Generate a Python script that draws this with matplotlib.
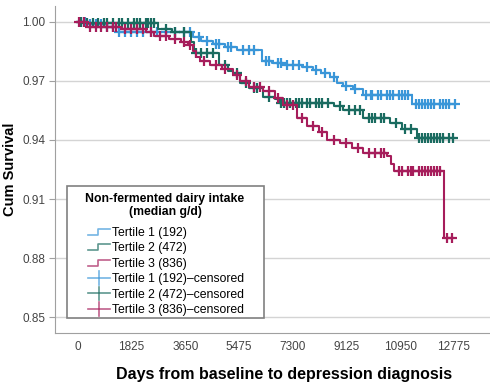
import numpy as np
import matplotlib
matplotlib.use("Agg")
from matplotlib import pyplot as plt
from matplotlib.lines import Line2D
from matplotlib.patches import Rectangle
from matplotlib.legend_handler import HandlerBase

plt.rcParams['font.family'] = ['Liberation Sans', 'DejaVu Sans']

# step curves: event times (days) and cumulative survival after each step
t1_times = [0, 400, 900, 1400, 3900, 4200, 4600, 5000, 5400, 6256, 6600, 7000,
            7600, 8000, 8250, 8550, 8800, 9000, 9350, 9690, 11356, 12800]
t1_surv = [1.0, 0.9990, 0.9975, 0.9949, 0.9925, 0.9905, 0.9885, 0.9870, 0.9858,
           0.9800, 0.9790, 0.9780, 0.9768, 0.9755, 0.9740, 0.9720, 0.9690, 0.9675,
           0.9660, 0.9629, 0.9583, 0.9583]

t2_times = [0, 300, 2720, 3200, 3850, 3950, 4800, 5100, 5270, 5500, 5800, 6300,
            6700, 6868, 8700, 9000, 9700, 10600, 11000, 11526, 12800]
t2_surv = [1.0, 0.9995, 0.9962, 0.9950, 0.9900, 0.9843, 0.9781, 0.9750, 0.9741,
           0.9690, 0.9665, 0.9620, 0.9610, 0.9588, 0.9570, 0.9553, 0.9512, 0.9487,
           0.9455, 0.9410, 0.9410]

t3_times = [0, 300, 1500, 2300, 2600, 3100, 3500, 3750, 3900, 4000, 4150, 4500,
            4900, 5270, 5500, 5800, 6300, 6700, 6970, 7450, 7800, 8200, 8466,
            8900, 9300, 9690, 10500, 10650, 10750, 12450, 12760]
t3_surv = [1.0, 0.9975, 0.9965, 0.9950, 0.9930, 0.9915, 0.9895, 0.9880, 0.9850,
           0.9820, 0.9800, 0.9780, 0.9760, 0.9730, 0.9700, 0.9670, 0.9650, 0.9615,
           0.9580, 0.9510, 0.9470, 0.9440, 0.9400, 0.9385, 0.9360, 0.9335, 0.9320,
           0.9280, 0.9243, 0.8902, 0.8902]

# censoring times (days)
t1_cens = [100, 250, 400, 600, 800, 1000, 1200, 1400, 1600, 1800, 2000, 2200,
           2500, 2700, 3000, 3300, 3600, 3800, 4100, 4400, 4700, 4800, 5100, 5200,
           5600, 5800, 6000, 6400, 6500, 6800, 6900, 7100, 7300, 7500, 7800, 8100,
           8400, 8700, 9100, 9400, 9800, 9950, 10000, 10200, 10300, 10500, 10600,
           10700, 10900, 11000, 11100, 11200, 11500, 11600, 11700, 11800, 11900,
           12000, 12100, 12300, 12400, 12500, 12600, 12800]
t2_cens = [100, 300, 500, 700, 900, 1000, 1200, 1400, 1500, 1700, 1900, 2000,
           2100, 2300, 2400, 2500, 2600, 3000, 3300, 3600, 4000, 4200, 4400, 4600,
           5000, 5400, 5700, 6000, 6100, 6500, 6900, 7000, 7100, 7200, 7400, 7500,
           7600, 7800, 7900, 8100, 8200, 8300, 8500, 8900, 9200, 9400, 9600, 9900,
           10000, 10100, 10300, 10400, 10800, 11100, 11300, 11600, 11700, 11800,
           11900, 12000, 12100, 12200, 12300, 12400, 12600, 12750]
t3_cens = [50, 200, 400, 600, 800, 1000, 1200, 1300, 1600, 1800, 2000, 2200,
           2500, 2800, 3000, 3300, 3600, 3800, 4300, 4700, 5000, 5400, 5700, 6000,
           6200, 6500, 6800, 7100, 7300, 7600, 8000, 8300, 8700, 9100, 9500, 9900,
           10100, 10300, 10400, 10900, 11000, 11200, 11300, 11400, 11600, 11700,
           11800, 11900, 12000, 12100, 12200, 12300, 12550, 12700]

labels = ['Tertile 1 (192)', 'Tertile 2 (472)', 'Tertile 3 (836)']
colors = ['#3a96d8', '#1a6b60', '#a61d5b']
xticks = [0, 1825, 3650, 5475, 7300, 9125, 10950, 12775]
yticks = [0.85, 0.88, 0.91, 0.94, 0.97, 1.00]


def surv_at(times, surv, t):
    idx = np.searchsorted(times, t, side='right') - 1
    return np.array(surv)[idx]


class StepHandler(HandlerBase):
    def create_artists(self, legend, orig, xd, yd, w, h, fontsize, trans):
        xs = [xd, xd + w * 0.45, xd + w * 0.45, xd + w]
        ys = [yd + h * 0.15, yd + h * 0.15, yd + h * 0.85, yd + h * 0.85]
        ln = Line2D(xs, ys, color=orig.get_color(), lw=1.2, alpha=0.7, transform=trans)
        return [ln]


class CrossHandler(HandlerBase):
    def create_artists(self, legend, orig, xd, yd, w, h, fontsize, trans):
        c = orig.get_color()
        a = Line2D([xd, xd + w], [yd + h * 0.5] * 2, color=c, lw=1.2, alpha=0.7, transform=trans)
        b = Line2D([xd + w * 0.5] * 2, [yd - h * 0.3, yd + h * 1.3], color=c, lw=1.2,
                   alpha=0.7, transform=trans)
        return [a, b]


fig = plt.figure(figsize=(4.9, 3.91), dpi=100)
ax = fig.add_axes([0.112, 0.148, 0.888, 0.837])

curves = [(t1_times, t1_surv, t1_cens), (t2_times, t2_surv, t2_cens), (t3_times, t3_surv, t3_cens)]
step_handles = []
cens_handles = []
for (tt, ss, cc), lab, col in zip(curves, labels, colors):
    ax.step(tt, ss, where='post', color=col, lw=1.5)
    ax.plot(cc, surv_at(tt, ss, cc), linestyle='none', marker='+', ms=6.5, mew=1.6, color=col)
    step_handles.append(Line2D([], [], color=col))
    cens_handles.append(Line2D([], [], color=col))

ax.set_xlim(-780, 14000)
ax.set_ylim(0.8419, 1.0081)
ax.set_xticks(xticks)
ax.set_yticks(yticks)
ax.set_yticklabels(['%.2f' % v for v in yticks])
ax.yaxis.grid(True, color='#d4d4d4', lw=1)
ax.set_axisbelow(True)
for s in ['top', 'right']:
    ax.spines[s].set_visible(False)
for s in ['left', 'bottom']:
    ax.spines[s].set_color('#a0a0a0')
ax.tick_params(axis='y', length=4, color='#a0a0a0', labelsize=8.5, labelcolor='#444444', pad=3)
ax.tick_params(axis='x', length=0, labelsize=8.5, labelcolor='#444444', pad=6)
ax.set_xlabel('Days from baseline to depression diagnosis', fontsize=11.5, fontweight='bold')
ax.xaxis.set_label_coords(0.526, -0.105)
ax.set_ylabel('Cum Survival', fontsize=10.5, fontweight='bold')
ax.yaxis.set_label_coords(-0.088, 0.5)

# legend frame and title
box = Rectangle((67 / 490, 1 - 318 / 391), 197 / 490, 132 / 391, transform=fig.transFigure,
                facecolor='white', edgecolor='#808080', lw=1.2, zorder=4)
ax.add_patch(box)
fig.text(165 / 490, 1 - 205.5 / 391, 'Non-fermented dairy intake\n(median g/d)',
         ha='center', va='center', fontsize=8.8, fontweight='bold', linespacing=1.15,
         zorder=6)

hmap = {h: StepHandler() for h in step_handles}
hmap.update({h: CrossHandler() for h in cens_handles})
leg = ax.legend(step_handles + cens_handles,
                labels + [l + '\u2013censored' for l in labels],
                loc='upper left', bbox_to_anchor=(88 / 490, 1 - 227 / 391),
                bbox_transform=fig.transFigure,
                handler_map=hmap, frameon=False, fontsize=8.8, handlelength=1.8,
                handletextpad=0.15, labelspacing=0.28, borderpad=0, borderaxespad=0)
leg.set_zorder(5)

fig.savefig('out.png', dpi=100)
